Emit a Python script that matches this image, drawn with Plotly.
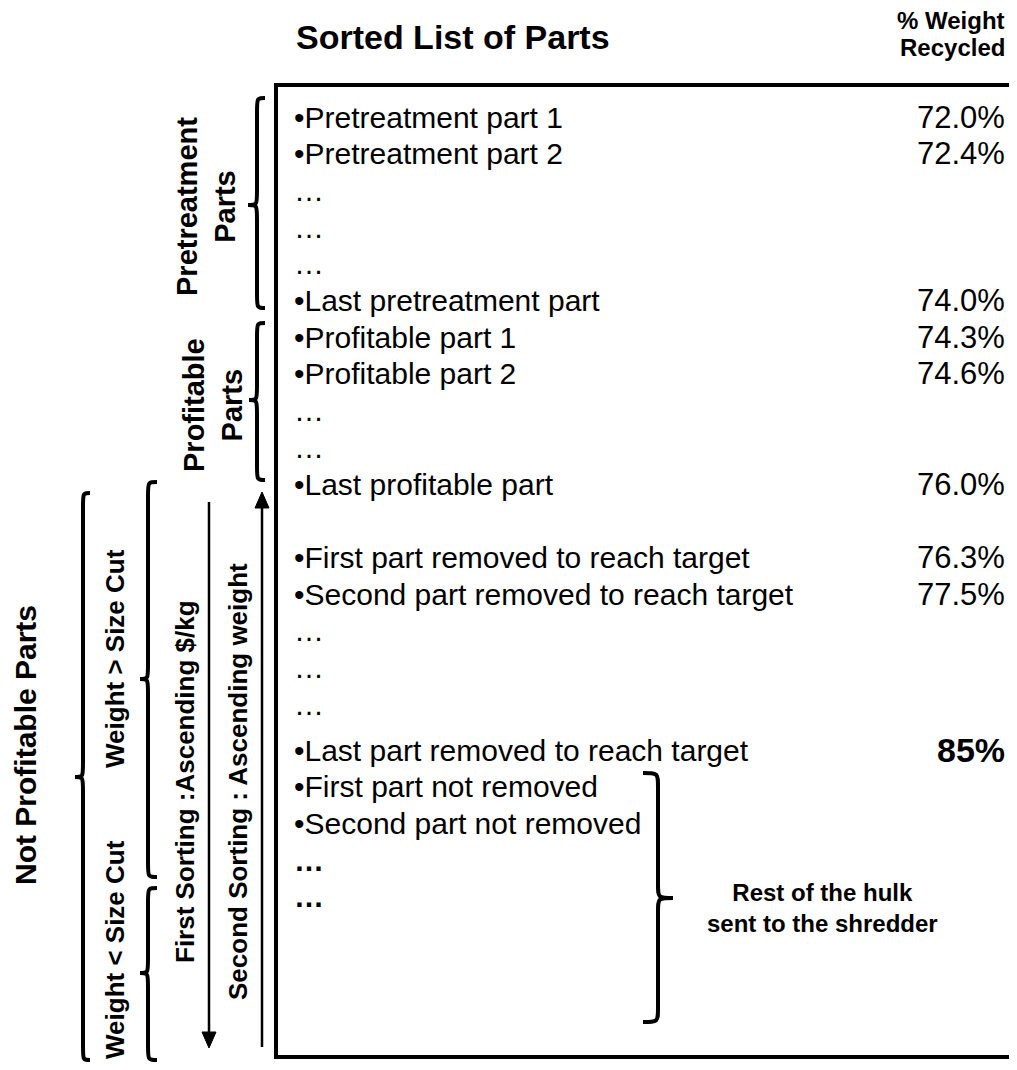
import plotly.graph_objects as go

# ---------------- data ----------------
part_labels = [
    "•Pretreatment part 1", "•Pretreatment part 2", "…", "…", "…",
    "•Last pretreatment part",
    "•Profitable part 1", "•Profitable part 2", "…", "…",
    "•Last profitable part",
    "•First part removed to reach target", "•Second part removed to reach target",
    "…", "…", "…",
    "•Last part removed to reach target",
    "•First part not removed", "•Second part not removed", "…", "…",
]
pct_recycled = [72.0, 72.4, None, None, None, 74.0,
                74.3, 74.6, None, None, 76.0,
                76.3, 77.5, None, None, None, 85.0,
                None, None, None, None]
target_row = 16
shredder_rows = [17, 18, 19, 20]

header_parts = "Sorted List of Parts"
header_pct = ["% Weight", "Recycled"]
group_labels = ["Pretreatment<br>Parts", "Profitable<br>Parts"]
side_labels = ["Not Profitable Parts", "Weight > Size Cut", "Weight < Size Cut",
               "First Sorting :Ascending $/kg", "Second Sorting : Ascending weight"]
hulk_label = "Rest of the hulk<br>sent to the shredder"

# ---------------- layout / geometry ----------------
W, H = 1017, 1070
OFF = 8            # page body margin compensation (figure fits the window exactly)
FW, FH = W - 2 * OFF, H - 2 * OFF
FONT = "Liberation Sans, Arial, Helvetica, sans-serif"
Y0, PITCH = 117, 36.7
X_TEXT, X_VAL = 292, 1007

def row_y(i):
    slot = i
    if i >= 11:
        slot += 1          # blank line before the "removed" block
    if i >= 16:
        slot += 0.25       # larger target row
    return Y0 + PITCH * slot

fig = go.Figure()
fig.update_xaxes(range=[OFF, OFF + FW], visible=False, fixedrange=True)
fig.update_yaxes(range=[OFF + FH, OFF], visible=False, fixedrange=True)
fig.update_layout(width=FW, height=FH, margin=dict(l=0, r=0, t=0, b=0),
                  paper_bgcolor="white", plot_bgcolor="white", showlegend=False)

ann = []

def text(x, y, s, size, bold=False, xanchor="center", angle=0, align="center"):
    ann.append(dict(x=x, y=y, xref="x", yref="y", text=("<b>%s</b>" % s) if bold else s,
                    showarrow=False, xanchor=xanchor, yanchor="middle", textangle=angle,
                    align=align, font=dict(family=FONT, size=size, color="black")))

# headers
text(294, 37, header_parts, 34, bold=True, xanchor="left")
text(X_VAL, 20.5, header_pct[0], 24, bold=True, xanchor="right")
text(X_VAL, 47.5, header_pct[1], 24, bold=True, xanchor="right")

# rows
for i, lab in enumerate(part_labels):
    y = row_y(i)
    is_dots = lab == "…"
    bold_dots = is_dots and i in shredder_rows
    text(X_TEXT, y, lab, 30, bold=bold_dots, xanchor="left")
    v = pct_recycled[i]
    if v is not None:
        if i == target_row:
            text(X_VAL, y, "%d%%" % round(v), 34, bold=True, xanchor="right")
        else:
            text(X_VAL, y, "%.1f%%" % v, 31, xanchor="right")

# group labels (rotated)
text(206, 207, group_labels[0], 29, bold=True, angle=-90)
text(213, 405, group_labels[1], 29, bold=True, angle=-90)
text(25, 745, side_labels[0], 30, bold=True, angle=-90)
text(115, 659, side_labels[1], 26, bold=True, angle=-90)
text(115, 950, side_labels[2], 26, bold=True, angle=-90)
text(185, 782, side_labels[3], 26, bold=True, angle=-90)
text(238, 782, side_labels[4], 26, bold=True, angle=-90)
text(822, 908, hulk_label, 24, bold=True)

fig.update_layout(annotations=ann)

shapes = []
LINE = dict(color="black", width=4)

def brace(xe, xl, xt, y0, ym, y1, r=14):
    # left or right brace: ends at xe, vertical stroke at xl, tip at xt
    p = (f"M {xe},{y0} C {xl},{y0} {xl},{y0} {xl},{y0 + r} "
         f"L {xl},{ym - r} C {xl},{ym} {xl},{ym} {xt},{ym} "
         f"C {xl},{ym} {xl},{ym} {xl},{ym + r} "
         f"L {xl},{y1 - r} C {xl},{y1} {xl},{y1} {xe},{y1}")
    shapes.append(dict(type="path", path=p, xref="x", yref="y", line=LINE))

brace(265, 257, 248, 98, 205, 308)      # pretreatment
brace(265, 257, 249, 323, 400, 480)     # profitable
brace(90, 83, 75, 493, 777, 1060)       # not profitable
brace(157, 148, 140, 482, 679, 877)     # weight > size cut
brace(157, 148, 140, 888, 973, 1060)    # weight < size cut
brace(643, 658, 673, 773, 898, 1022)    # rest of hulk (right brace)

# list box (open on the right)
shapes.append(dict(type="line", x0=274, x1=W + 20, y0=85, y1=85, xref="x", yref="y", line=LINE))
shapes.append(dict(type="line", x0=276, x1=276, y0=83, y1=1059, xref="x", yref="y", line=LINE))
shapes.append(dict(type="line", x0=274, x1=W + 20, y0=1057, y1=1057, xref="x", yref="y", line=LINE))

# sorting arrows
AR = dict(color="black", width=2.5)
shapes.append(dict(type="line", x0=209, x1=209, y0=502, y1=1036, xref="x", yref="y", line=AR))
shapes.append(dict(type="path", path="M 202,1032 L 216,1032 L 209,1048 Z", xref="x", yref="y",
                   fillcolor="black", line=dict(color="black", width=1)))
shapes.append(dict(type="line", x0=262, x1=262, y0=1047, y1=504, xref="x", yref="y", line=AR))
shapes.append(dict(type="path", path="M 255,508 L 269,508 L 262,492 Z", xref="x", yref="y",
                   fillcolor="black", line=dict(color="black", width=1)))

fig.update_layout(shapes=shapes)
fig.write_html("out.html")
